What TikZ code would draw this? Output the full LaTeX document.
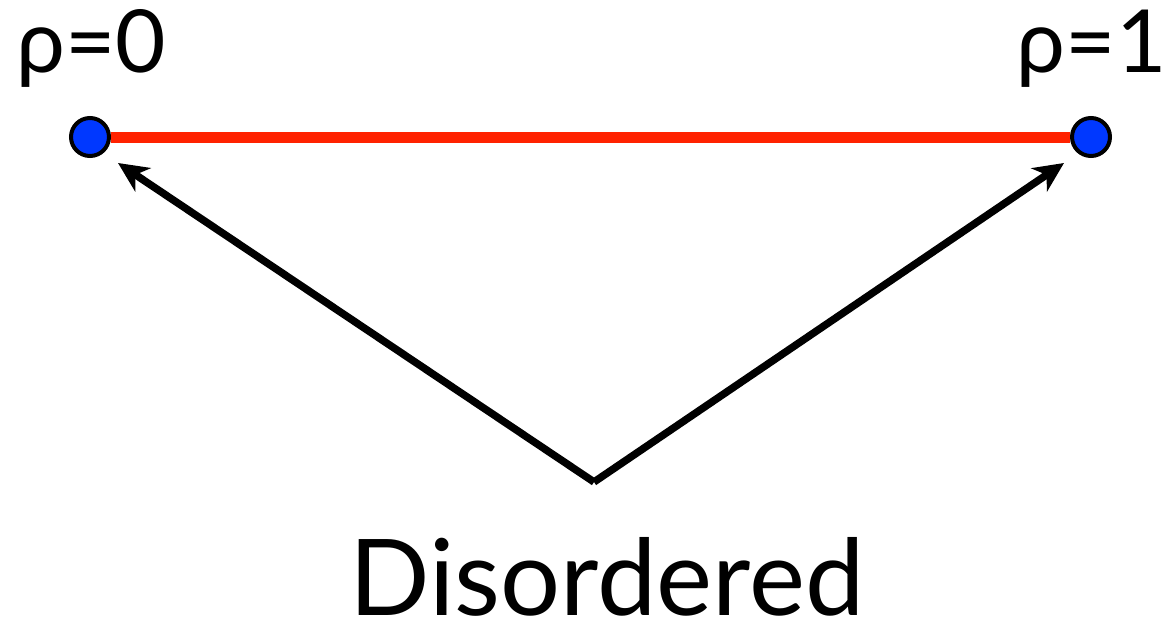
\documentclass[tikz,border=0pt]{standalone}
\usepackage{fontspec}
\setmainfont{Lato}
\usetikzlibrary{arrows.meta}
\definecolor{dotblue}{RGB}{0,56,255}
\definecolor{linered}{RGB}{255,34,0}
\tikzset{
  dot/.style={circle, draw=black, line width=4pt, fill=dotblue, minimum size=38pt, inner sep=0pt},
  arr/.style={line width=7.5pt, -{Stealth[length=30pt,width=28pt,inset=9pt]}},
  lbl/.style={inner sep=0pt, text depth=0pt, font=\fontsize{87}{95}\selectfont},
}
\begin{document}
\begin{tikzpicture}[x=1pt,y=-1pt]
\useasboundingbox (0,0) rectangle (1170,629);
\node[dot] (a) at (90,137) {};
\node[dot] (b) at (1091,137) {};
\draw[linered, line width=11pt] (a.east) -- (b.west);
\coordinate (v) at (594,482);
\coordinate (ta) at (118,163);
\coordinate (tb) at (1064,163);
\draw[arr] (v) -- (ta);
\draw[arr] (v) -- (tb);
\node[lbl, anchor=base west] (l0) at (16,72) {ρ=0};
\node[lbl, anchor=base east] (l1) at (1167,72) {ρ=1};
\node[inner sep=0pt, text depth=0pt, anchor=base, font=\fontsize{106}{115}\selectfont] (d) at (607,615) {Disordered};
\end{tikzpicture}
\end{document}
